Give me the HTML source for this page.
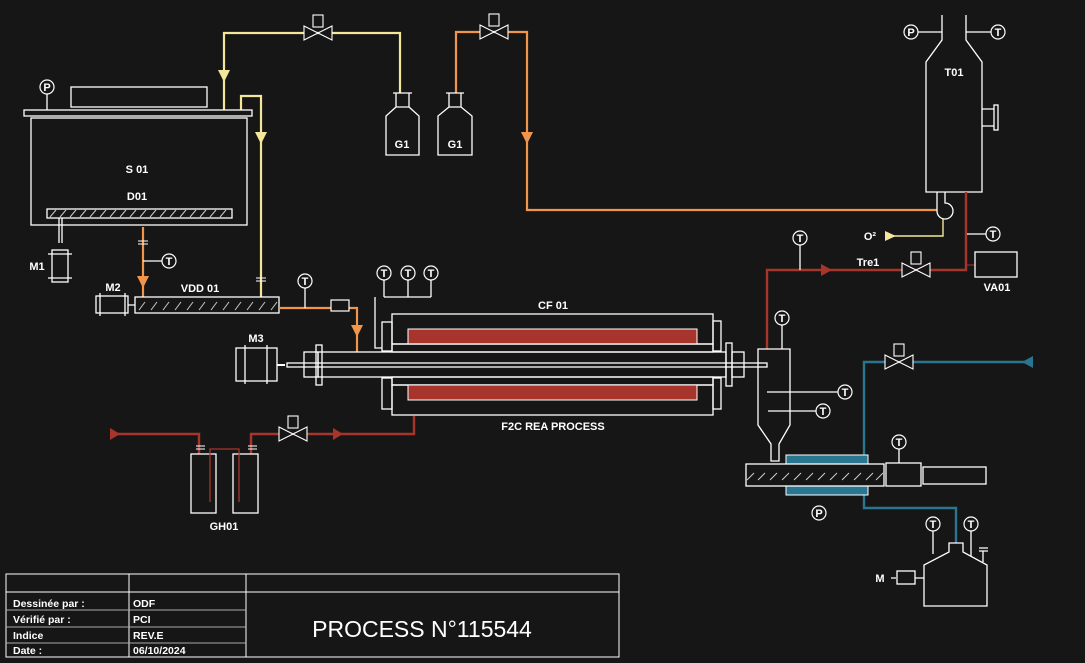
<!DOCTYPE html>
<html><head><meta charset="utf-8"><style>
html,body{margin:0;padding:0;background:#161616;}
svg{display:block;}
text{font-family:"Liberation Sans",sans-serif;fill:#fff;font-weight:bold;font-size:11px;}
.w{fill:none;stroke:#fff;stroke-width:1.3;}
.y{fill:none;stroke:#f3e79a;stroke-width:2.2;}
.o{fill:none;stroke:#f0954a;stroke-width:2.2;}
.r{fill:none;stroke:#a8352c;stroke-width:2.4;}
.b{fill:none;stroke:#2a7590;stroke-width:2.4;}
</style></head><body>
<svg width="1085" height="663" viewBox="0 0 1085 663" xmlns="http://www.w3.org/2000/svg">
<defs>
<g id="T"><circle r="7" fill="#161616" stroke="#fff" stroke-width="1.2"/><text x="0" y="4" text-anchor="middle">T</text></g>
<g id="P"><circle r="7" fill="#161616" stroke="#fff" stroke-width="1.2"/><text x="0" y="4" text-anchor="middle">P</text></g>
<g id="V"><path d="M-14,-7 L0,0 L-14,7 Z M14,-7 L0,0 L14,7 Z" fill="#161616" stroke="#fff" stroke-width="1.1"/><rect x="-5" y="-18" width="10" height="12" fill="#161616" stroke="#fff" stroke-width="1.1"/></g>
</defs>

<path class="y" d="M224,110 V33 H400 V93"/>
<path d="M218,70 L230,70 L224,82 Z" fill="#f3e79a"/>
<path class="y" d="M241,110 V96 H261 V297"/>
<path d="M255,132 L267,132 L261,144 Z" fill="#f3e79a"/>
<path stroke="#fff" stroke-width="1" d="M256,278 H266 M256,281 H266"/>
<use href="#V" x="318" y="33"/>

<path class="o" d="M456,93 V32 H527 V210 H937"/>
<path d="M521,132 L533,132 L527,144 Z" fill="#f0954a"/>
<use href="#V" x="494" y="32"/>

<path class="w" d="M396,93 V107 H409 V93 M393,93 H412 M396,107 L386,116 V155 H419 V116 L409,107"/>
<text x="402" y="148" text-anchor="middle">G1</text>
<path class="w" d="M449,93 V107 H461 V93 M446,93 H464 M449,107 L438,116 V155 H472 V116 L461,107"/>
<text x="455" y="148" text-anchor="middle">G1</text>

<rect class="w" x="71" y="87" width="136" height="20"/>
<rect class="w" x="24" y="110" width="228" height="6"/>
<rect class="w" x="31" y="118" width="216" height="107"/>
<path class="w" d="M47,94 V110"/><use href="#P" x="47" y="87"/>
<text x="137" y="173" text-anchor="middle">S 01</text>
<text x="137" y="200" text-anchor="middle">D01</text>
<rect class="w" x="47" y="209" width="185" height="9"/>
<path stroke="#ccc" stroke-width="1" d="M50,217l6,-7M60,217l6,-7M70,217l6,-7M80,217l6,-7M90,217l6,-7M100,217l6,-7M110,217l6,-7M120,217l6,-7M130,217l6,-7M140,217l6,-7M150,217l6,-7M160,217l6,-7M170,217l6,-7M180,217l6,-7M190,217l6,-7M200,217l6,-7M210,217l6,-7M220,217l6,-7"/>
<path class="w" d="M59,218 V243 M62,218 V243"/>
<rect class="w" x="52" y="250" width="16" height="32"/>
<path class="w" d="M48,254 H72 M48,278 H72"/>
<text x="37" y="270" text-anchor="middle">M1</text>

<path class="o" d="M143,227 V297"/>
<path d="M137,276 L149,276 L143,288 Z" fill="#f0954a"/>
<path stroke="#fff" stroke-width="1" d="M138,241 H148 M138,244 H148"/>
<path class="w" d="M143,261 H162"/><use href="#T" x="169" y="261"/>

<rect class="w" x="96" y="296" width="32" height="17"/>
<path class="w" d="M100,293 V316 M125,293 V316 M128,305 H135"/>
<text x="113" y="291" text-anchor="middle">M2</text>
<rect class="w" x="135" y="297" width="144" height="16"/>
<path stroke="#ccc" stroke-width="1" d="M139,310l6,-8M151,310l6,-8M163,310l6,-8M175,310l6,-8M187,310l6,-8M199,310l6,-8M211,310l6,-8M223,310l6,-8M235,310l6,-8M247,310l6,-8M259,310l6,-8M271,310l6,-8"/>
<text x="200" y="292" text-anchor="middle">VDD 01</text>

<path class="o" d="M279,308 H357 V352"/>
<rect x="331" y="300" width="18" height="11" fill="#161616" stroke="#fff" stroke-width="1.2"/>
<path d="M351,325 L363,325 L357,337 Z" fill="#f0954a"/>
<path class="w" d="M305,288 V308"/><use href="#T" x="305" y="281"/>

<path class="w" d="M384,280 V297 M408,280 V297 M431,280 V297 M384,297 H431 M375,297 V348 H382"/>
<use href="#T" x="384" y="273"/><use href="#T" x="408" y="273"/><use href="#T" x="431" y="273"/>
<rect class="w" x="392" y="314" width="321" height="30"/>
<rect x="408" y="329" width="289" height="15" fill="#a8352c" stroke="#fff" stroke-width="1"/>
<rect class="w" x="392" y="344" width="321" height="8"/>
<rect class="w" x="382" y="322" width="10" height="29"/>
<rect class="w" x="713" y="321" width="8" height="30"/>
<rect class="w" x="318" y="352" width="408" height="25"/>
<rect class="w" x="287" y="363" width="480" height="4"/>
<rect class="w" x="304" y="352" width="14" height="25"/>
<rect class="w" x="316" y="345" width="6" height="40"/>
<rect class="w" x="726" y="343" width="6" height="43"/>
<rect class="w" x="732" y="352" width="12" height="25"/>
<rect class="w" x="392" y="377" width="321" height="8"/>
<rect class="w" x="392" y="385" width="321" height="30"/>
<rect x="408" y="385" width="289" height="15" fill="#a8352c" stroke="#fff" stroke-width="1"/>
<rect class="w" x="382" y="378" width="10" height="31"/>
<rect class="w" x="713" y="378" width="8" height="31"/>
<text x="553" y="309" text-anchor="middle">CF 01</text>
<text x="553" y="430" text-anchor="middle">F2C REA PROCESS</text>
<rect class="w" x="236" y="348" width="41" height="33"/>
<path class="w" d="M245,345 V384 M267,345 V384"/>
<path stroke="#fff" stroke-width="2" d="M277,365 H285"/>
<text x="256" y="342" text-anchor="middle">M3</text>

<path class="r" d="M110,434 H199 V454"/>
<path d="M110,428 L120,434 L110,440 Z" fill="#a8352c"/>
<path class="r" d="M251,454 V434 H414 V416"/>
<path d="M333,428 L343,434 L333,440 Z" fill="#a8352c"/>
<use href="#V" x="293" y="434"/>
<rect class="w" x="191" y="454" width="25" height="59"/>
<rect class="w" x="233" y="454" width="25" height="59"/>
<path stroke="#a8352c" stroke-width="1.3" fill="none" d="M210,502 V449 H239 V502"/>
<path stroke="#fff" stroke-width="1" d="M196,446 H205 M196,449 H205 M248,446 H257 M248,449 H257"/>
<text x="224" y="530" text-anchor="middle">GH01</text>

<path class="w" d="M942,15 V40 L926,62 V192 H982 V62 L966,40 V15"/>
<path class="w" d="M918,32 H942 M966,32 H991"/>
<use href="#P" x="911" y="32"/><use href="#T" x="998" y="32"/>
<text x="954" y="76" text-anchor="middle">T01</text>
<path class="w" d="M982,109 H994 M982,126 H994"/>
<rect class="w" x="994" y="105" width="4" height="25"/>
<path class="w" d="M937,192 V211 A8,8 0 1 0 945,203 V192"/>

<path stroke="#f3e79a" stroke-width="1.4" fill="none" d="M890,236 H943 V219"/>
<path d="M885,231 L896,236 L885,241 Z" fill="#f3e79a"/>
<text x="870" y="240" text-anchor="middle">O²</text>

<path class="r" d="M767,349 V270 H966 V192"/>
<path d="M821,264 L832,270 L821,276 Z" fill="#a8352c"/>
<use href="#V" x="916" y="270"/>
<path class="w" d="M800,245 V270"/><use href="#T" x="800" y="238"/>
<text x="868" y="266" text-anchor="middle">Tre1</text>
<path class="w" d="M967,234 H986"/><use href="#T" x="993" y="234"/>
<path stroke="#a8352c" stroke-width="1" d="M966,265 H975"/>
<rect class="w" x="975" y="252" width="42" height="25"/>
<text x="997" y="291" text-anchor="middle">VA01</text>

<path class="w" d="M758,349 H790 V425 L779,444 V461 H771 V444 L758,425 Z"/>
<path class="w" d="M782,325 V349"/><use href="#T" x="782" y="318"/>
<path class="w" d="M767,392 H838 M768,411 H816"/>
<use href="#T" x="845" y="392"/><use href="#T" x="823" y="411"/>

<path class="b" d="M864,455 V362 H1025"/>
<path d="M1033,356 L1022,362 L1033,368 Z" fill="#2a7590"/>
<use href="#V" x="899" y="362"/>
<path class="b" d="M864,495 V508 H956 V543"/>
<rect x="786" y="455" width="82" height="9" fill="#2a7590" stroke="#fff" stroke-width="1"/>
<rect x="786" y="486" width="82" height="9" fill="#2a7590" stroke="#fff" stroke-width="1"/>
<rect class="w" x="746" y="464" width="138" height="22"/>
<path stroke="#ccc" stroke-width="1" d="M747,480l7,-7M758,480l7,-7M770,480l7,-7M782,480l7,-7M794,480l7,-7M806,480l7,-7M818,480l7,-7M830,480l7,-7M842,480l7,-7M854,480l7,-7M866,480l7,-7M876,480l7,-7"/>
<rect class="w" x="886" y="463" width="35" height="23"/>
<rect class="w" x="923" y="467" width="63" height="17"/>
<path class="w" d="M899,449 V463"/><use href="#T" x="899" y="442"/>
<use href="#P" x="819" y="513"/>

<path class="w" d="M924,606 V565 L949,552 V543 H963 V552 L987,565 V606 Z"/>
<path class="w" d="M933,531 V554 M971,531 V556 M983,551 V562 M979,548 H988 M979,551 H988"/>
<use href="#T" x="933" y="524"/><use href="#T" x="971" y="524"/>
<rect class="w" x="897" y="571" width="18" height="13"/>
<path class="w" d="M915,578 H924 M891,578 H896"/>
<text x="880" y="582" text-anchor="middle">M</text>

<rect x="6" y="574" width="613" height="83" fill="none" stroke="#fff" stroke-width="1"/>
<path stroke="#fff" stroke-width="1" d="M6,592 H619 M129,574 V657 M246,574 V657"/>
<path stroke="#aaa" stroke-width="1" d="M6,610 H246 M6,627 H246 M6,643 H246"/>
<text x="13" y="607" style="font-size:10.5px">Dessinée par :</text>
<text x="13" y="623" style="font-size:10.5px">Vérifié par :</text>
<text x="13" y="639" style="font-size:10.5px">Indice</text>
<text x="13" y="654" style="font-size:10.5px">Date :</text>
<text x="133" y="607" style="font-size:10.5px">ODF</text>
<text x="133" y="623" style="font-size:10.5px">PCI</text>
<text x="133" y="639" style="font-size:10.5px">REV.E</text>
<text x="133" y="654" style="font-size:10.5px">06/10/2024</text>
<text x="422" y="637" text-anchor="middle" style="font-size:23px;font-weight:normal">PROCESS N°115544</text>
</svg>
</body></html>
